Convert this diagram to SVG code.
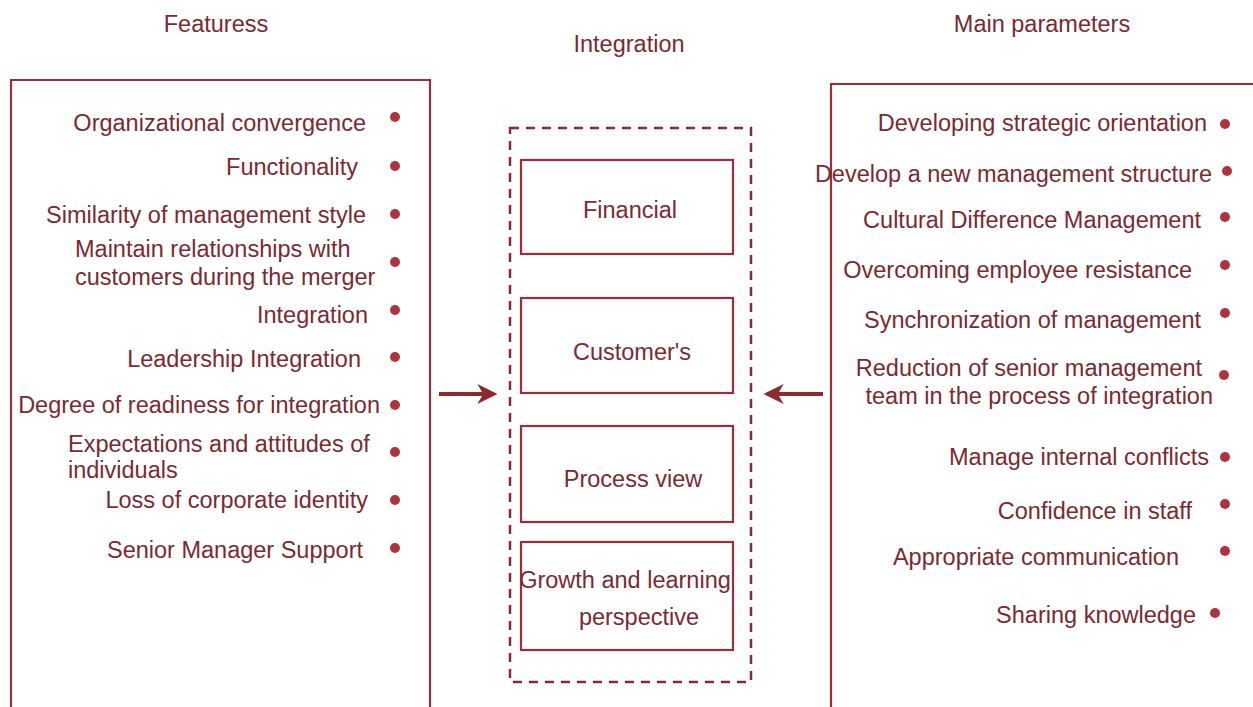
<svg xmlns="http://www.w3.org/2000/svg" width="1253" height="707" viewBox="0 0 1253 707">
  <style>
    text { font-family: "Liberation Sans", Arial, sans-serif; font-size: 23.5px; fill: #7a2a31; }
    .r { text-anchor: end; }
    .c { text-anchor: middle; }
    .frame { fill: none; stroke: #9b2f38; stroke-width: 2.2; }
    .box { fill: #ffffff; stroke: #9b2f38; stroke-width: 2.2; }
    .dash { fill: none; stroke: #8a2a34; stroke-width: 2.5; stroke-dasharray: 9 7; }
    .dot { fill: #b0323c; }
    .arrow { stroke: #8e2a2f; stroke-width: 4; fill: none; }
  </style>
  <defs>
    <marker id="head" viewBox="0 0 12 12" refX="10" refY="6" markerWidth="5" markerHeight="5" orient="auto" markerUnits="strokeWidth">
      <path d="M0,0 L12,6 L0,12 L3.5,6 Z" fill="#8e2a2f"/>
    </marker>
  </defs>
  <rect width="1253" height="707" fill="#ffffff"/>

  <!-- column headings -->
  <text class="c" x="216" y="32">Featuress</text>
  <text class="c" x="629" y="52">Integration</text>
  <text class="c" x="1042" y="32">Main parameters</text>

  <!-- features panel -->
  <g id="features">
    <path class="frame" d="M11,707 V80 H430 V707"/>
    <text class="r" x="366" y="131">Organizational convergence</text>
    <text class="r" x="358" y="175">Functionality</text>
    <text class="r" x="366" y="223">Similarity of management style</text>
    <text x="75" y="257">Maintain relationships with</text>
    <text x="75" y="285">customers during the merger</text>
    <text class="r" x="368" y="323">Integration</text>
    <text class="r" x="361" y="367">Leadership Integration</text>
    <text class="r" x="380" y="413">Degree of readiness for integration</text>
    <text x="68" y="452">Expectations and attitudes of</text>
    <text x="68" y="478">individuals</text>
    <text class="r" x="368" y="508">Loss of corporate identity</text>
    <text class="r" x="363" y="558">Senior Manager Support</text>
    <circle class="dot" cx="395" cy="117" r="5"/>
    <circle class="dot" cx="395" cy="166" r="5"/>
    <circle class="dot" cx="395" cy="214" r="5"/>
    <circle class="dot" cx="395" cy="262" r="5"/>
    <circle class="dot" cx="395" cy="310" r="5"/>
    <circle class="dot" cx="395" cy="357" r="5"/>
    <circle class="dot" cx="395" cy="405" r="5"/>
    <circle class="dot" cx="395" cy="452" r="5"/>
    <circle class="dot" cx="395" cy="500" r="5"/>
    <circle class="dot" cx="395" cy="548" r="5"/>
  </g>

  <!-- integration column -->
  <g id="integration">
    <rect class="dash" x="510" y="128" width="241" height="554"/>
  </g>
  <g id="financial">
    <rect class="box" x="521" y="160" width="212" height="94"/>
    <text class="c" x="630" y="218">Financial</text>
  </g>
  <g id="customers">
    <rect class="box" x="521" y="298" width="212" height="95"/>
    <text class="c" x="632" y="360">Customer's</text>
  </g>
  <g id="process-view">
    <rect class="box" x="521" y="426" width="212" height="96"/>
    <text class="c" x="633" y="487">Process view</text>
  </g>
  <g id="growth-learning">
    <rect class="box" x="521" y="542" width="212" height="108"/>
    <text class="c" x="625" y="588">Growth and learning</text>
    <text class="c" x="639" y="625">perspective</text>
  </g>

  <!-- main parameters panel -->
  <g id="parameters">
    <path class="frame" d="M831,707 V84 H1253"/>
    <text class="r" x="1207" y="131">Developing strategic orientation</text>
    <text class="r" x="1212" y="182">Develop a new management structure</text>
    <text class="r" x="1201" y="228">Cultural Difference Management</text>
    <text class="r" x="1192" y="278">Overcoming employee resistance</text>
    <text class="r" x="1201" y="328">Synchronization of management</text>
    <text class="r" x="1202" y="376">Reduction of senior management</text>
    <text class="r" x="1213" y="404">team in the process of integration</text>
    <text class="r" x="1209" y="465">Manage internal conflicts</text>
    <text class="r" x="1192" y="519">Confidence in staff</text>
    <text class="r" x="1179" y="565">Appropriate communication</text>
    <text class="r" x="1196" y="623">Sharing knowledge</text>
    <circle class="dot" cx="1225" cy="124" r="5"/>
    <circle class="dot" cx="1227" cy="171" r="5"/>
    <circle class="dot" cx="1225" cy="217" r="5"/>
    <circle class="dot" cx="1225" cy="265" r="5"/>
    <circle class="dot" cx="1225" cy="313" r="5"/>
    <circle class="dot" cx="1224" cy="375" r="5"/>
    <circle class="dot" cx="1225" cy="457" r="5"/>
    <circle class="dot" cx="1225" cy="504" r="5"/>
    <circle class="dot" cx="1225" cy="551" r="5"/>
    <circle class="dot" cx="1215" cy="613" r="5"/>
  </g>

  <!-- connectors -->
  <g id="connectors">
    <line class="arrow" x1="439" y1="394" x2="494" y2="394" marker-end="url(#head)"/>
    <line class="arrow" x1="823" y1="394" x2="767" y2="394" marker-end="url(#head)"/>
  </g>
</svg>
